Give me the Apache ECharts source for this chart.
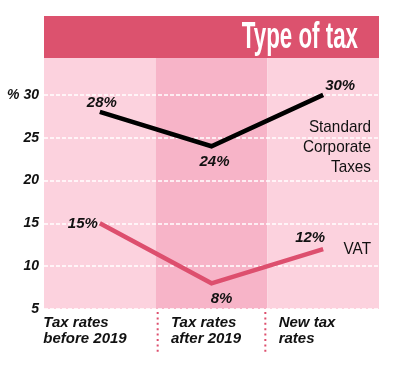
<!DOCTYPE html>
<html>
<head>
<meta charset="utf-8">
<script src="https://cdn.jsdelivr.net/npm/echarts@6/dist/echarts.min.js"></script>
<style>html,body{margin:0;padding:0;background:#fff}#c{width:400px;height:367px}</style>
</head>
<body>
<div id="c"></div>
<script>
var categories = ['Tax rates\nbefore 2019', 'Tax rates\nafter 2019', 'New tax\nrates'];
var corporateValues = [28, 24, 30];
var vatValues = [15, 8, 12];
var yTicks = [5, 10, 15, 20, 25, 30];
var titleText = 'Type of tax';
var corporateName = 'Standard\nCorporate\nTaxes';
var vatName = 'VAT';

var chart = echarts.init(document.getElementById('c'), null, {renderer: 'canvas'});
var LIGHT = '#fcd2de', DARK = '#f7b4c8', TITLE = '#dc526e', PINK = '#dd4f6e';
var labelFont = {fontFamily: 'Liberation Sans, Arial, sans-serif', fontWeight: 'bold', fontStyle: 'italic', fontSize: 15, color: '#111'};
var xStyles = ['a', 'b', 'c'];

function dataLabel() {
  return {
    show: true,
    formatter: '{c}%',
    position: 'top',
    distance: 6,
    fontFamily: labelFont.fontFamily, fontWeight: 'bold', fontStyle: 'italic', fontSize: 15, color: '#111'
  };
}

var option = {
  animation: false,
  grid: {left: 44, right: 21, top: 52, bottom: 58},
  xAxis: {
    type: 'category',
    data: categories,
    boundaryGap: true,
    z: 0,
    axisLine: {show: false},
    axisTick: {show: false},
    splitArea: {show: true, areaStyle: {color: [LIGHT, DARK]}},
    axisLabel: {
      margin: 6,
      interval: 0,
      formatter: function (v, i) {
        var s = xStyles[i];
        return v.split('\n').map(function (l) { return '{' + s + '|' + l + '}'; }).join('\n');
      },
      rich: {
        a: Object.assign({width: 113, align: 'left', lineHeight: 16}, labelFont),
        b: Object.assign({width: 81, align: 'left', lineHeight: 16}, labelFont),
        c: Object.assign({width: 89, align: 'left', lineHeight: 16}, labelFont)
      }
    }
  },
  yAxis: {
    type: 'value',
    min: 5, max: 35, interval: 5,
    z: 2,
    axisLine: {show: false},
    axisTick: {show: false},
    splitLine: {show: true, lineStyle: {color: '#ffffff', width: 1.5, type: [4, 2]}},
    axisLabel: {
      margin: 5,
      fontFamily: 'Liberation Sans, Arial, sans-serif',
      fontWeight: 'bold', fontStyle: 'italic', fontSize: 14, color: '#111',
      formatter: function (v) {
        if (yTicks.indexOf(v) < 0) return '';
        return v === 30 ? '% 30' : String(v);
      }
    }
  },
  series: [
    {
      name: 'Standard Corporate Taxes',
      type: 'line',
      data: corporateValues,
      symbol: 'circle',
      symbolSize: 0.1,
      showSymbol: true,
      itemStyle: {color: '#000'},
      z: 5,
      lineStyle: {color: '#000', width: 4.5, cap: 'butt', join: 'miter'},
      label: dataLabel(),
      labelLayout: function (p) {
        var offs = [[2, 4], [3, 29], [17, 5]];
        return {dx: offs[p.dataIndex][0], dy: offs[p.dataIndex][1]};
      }
    },
    {
      name: 'VAT',
      type: 'line',
      data: vatValues,
      symbol: 'circle',
      symbolSize: 0.1,
      showSymbol: true,
      itemStyle: {color: PINK},
      z: 5,
      lineStyle: {color: PINK, width: 4.5, cap: 'butt', join: 'miter'},
      label: dataLabel(),
      labelLayout: function (p) {
        var offs = [[-17, 14], [10, 29], [-13, 2]];
        return {dx: offs[p.dataIndex][0], dy: offs[p.dataIndex][1]};
      }
    }
  ]
};
chart.setOption(option);

// decorations tied to the axis scale
var p0 = chart.convertToPixel({gridIndex: 0}, [0, 35]);
var p1 = chart.convertToPixel({gridIndex: 0}, [1, 5]);
var p2 = chart.convertToPixel({gridIndex: 0}, [2, 5]);
var band = p1[0] - p0[0];
var left = p0[0] - band / 2, right = p2[0] + band / 2;
var bottom = p1[1];
var sep1 = (p0[0] + p1[0]) / 2, sep2 = (p1[0] + p2[0]) / 2;
var y30 = chart.convertToPixel({gridIndex: 0}, [0, 30])[1];
var y12 = chart.convertToPixel({gridIndex: 0}, [2, 12])[1];

chart.setOption({
  graphic: [
    {type: 'rect', z: 100, shape: {x: left, y: 16, width: right - left, height: 42}, style: {fill: TITLE}},
    {type: 'text', z: 101, x: right - 21, y: 38, scaleX: 0.62,
      style: {text: titleText, fill: '#fff', align: 'right', verticalAlign: 'middle',
        font: 'bold 36px "Liberation Sans Narrow", "Liberation Sans", Arial, sans-serif'}},
    {type: 'line', z: 10, shape: {x1: sep1 + 2, y1: bottom + 3, x2: sep1 + 2, y2: bottom + 44},
      style: {stroke: PINK, lineWidth: 2, lineDash: [2, 3.4]}},
    {type: 'line', z: 10, shape: {x1: sep2 - 2, y1: bottom + 3, x2: sep2 - 2, y2: bottom + 44},
      style: {stroke: PINK, lineWidth: 2, lineDash: [2, 3.4]}},
    {type: 'text', z: 10, x: right - 8, y: y30 + 22, scaleX: 0.9,
      style: {text: corporateName, fill: '#111', align: 'right', verticalAlign: 'top', lineHeight: 20,
        font: '17px "Liberation Sans Narrow", "Liberation Sans", Arial, sans-serif'}},
    {type: 'text', z: 10, x: right - 8, y: y12, scaleX: 0.9,
      style: {text: vatName, fill: '#111', align: 'right', verticalAlign: 'middle',
        font: '17px "Liberation Sans Narrow", "Liberation Sans", Arial, sans-serif'}}
  ]
});
</script>
</body>
</html>
